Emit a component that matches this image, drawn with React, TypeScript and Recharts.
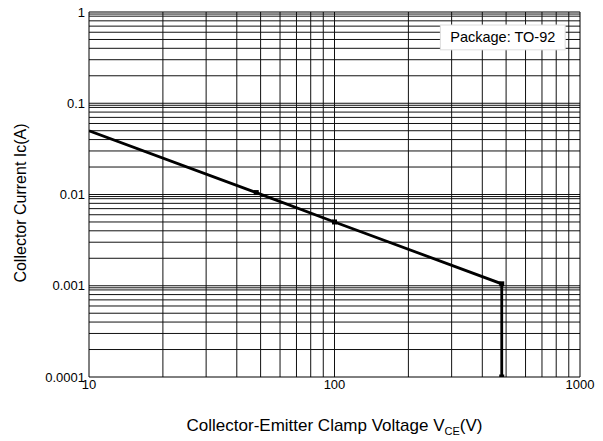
import React from 'react';
import { ComposedChart, Line, XAxis, YAxis, ReferenceLine, Label } from 'recharts';

const xTicks = [10, 100, 1000];
const yTicks = [0.0001, 0.001, 0.01, 0.1, 1];
const yTickLabels = ['0.0001', '0.001', '0.01', '0.1', '1'];
const xGrid = [20, 30, 40, 50, 60, 70, 80, 90, 100, 200, 300, 400, 500, 600, 700, 800, 900];
const yGrid = [
  0.0002, 0.0003, 0.0004, 0.0005, 0.0006, 0.0007, 0.0008, 0.0009, 0.00095, 0.001,
  0.002, 0.003, 0.004, 0.005, 0.006, 0.007, 0.008, 0.009, 0.0095, 0.01,
  0.02, 0.03, 0.04, 0.05, 0.06, 0.07, 0.08, 0.09, 0.095, 0.1,
  0.2, 0.3, 0.4, 0.5, 0.6, 0.7, 0.8, 0.9, 0.95,
];
const voltage = [10, 48, 100, 480, 480];
const current = [0.05, 0.0105, 0.005, 0.00105, 0.0001];
const markerIdx = [1, 2, 3, 4];
const boxText = 'Package: TO-92';
const boxCorners = [
  { x: 270, y: 0.72 },
  { x: 870, y: 0.385 },
];

const data = voltage.map((v, i) => ({ v, c: current[i] }));

const FONT = 'Arial, "Liberation Sans", Helvetica, sans-serif';

const Dot = (props: any) => {
  const { cx, cy, index } = props;
  if (!markerIdx.includes(index)) return <g key={index} />;
  return <rect key={index} x={cx - 2.5} y={cy - 2.5} width={5} height={5} fill="#000" />;
};

const BoxShape = (p: any) => {
  const x = Math.min(p.x1, p.x2);
  const y = Math.min(p.y1, p.y2);
  const w = Math.abs(p.x2 - p.x1);
  const h = Math.abs(p.y2 - p.y1);
  return (
    <g>
      <rect x={x} y={y} width={w} height={h} fill="#fff" stroke="#ddd" strokeWidth={1} />
      <text
        x={x + w / 2}
        y={y + h / 2}
        textAnchor="middle"
        dominantBaseline="central"
        fontSize={14.5}
        fontFamily={FONT}
        fill="#000"
      >
        {boxText}
      </text>
    </g>
  );
};

export default function App() {
  return (
    <div style={{ position: 'absolute', left: 0, top: 0, background: '#fff' }}>
      <ComposedChart
        width={603}
        height={441}
        data={data}
        margin={{ top: 12, right: 23, bottom: 34, left: 9 }}
      >
        <XAxis
          dataKey="v"
          type="number"
          scale="log"
          domain={[10, 1000]}
          ticks={xTicks}
          allowDataOverflow
          tickLine={false}
          tickSize={0}
          tickMargin={3}
          height={30}
          axisLine={{ stroke: '#000', strokeWidth: 1 }}
          tick={{ fill: '#000', fontSize: 13, fontFamily: FONT }}
        >
          <Label
            position="insideBottom"
            content={(p: any) => {
              const vb = p.viewBox;
              return (
                <text
                  x={vb.x + vb.width / 2}
                  y={431}
                  textAnchor="middle"
                  fontSize={17}
                  fontFamily={FONT}
                  fill="#000"
                >
                  Collector-Emitter Clamp Voltage V
                  <tspan fontSize={11} dy={4}>CE</tspan>
                  <tspan dy={-4}>(V)</tspan>
                </text>
              );
            }}
          />
        </XAxis>
        <YAxis
          type="number"
          scale="log"
          domain={[0.0001, 1]}
          ticks={yTicks}
          allowDataOverflow
          width={80}
          tickLine={false}
          tickSize={0}
          tickMargin={4}
          axisLine={{ stroke: '#000', strokeWidth: 1 }}
          tickFormatter={(v: number) => yTickLabels[yTicks.indexOf(v)] ?? String(v)}
          tick={{ fill: '#000', fontSize: 13, fontFamily: FONT }}
        >
          <Label
            position="insideLeft"
            content={() => (
              <text
                x={20}
                y={203}
                transform="rotate(-90 20 203)"
                textAnchor="middle"
                dominantBaseline="central"
                fontSize={16}
                fontFamily={FONT}
                fill="#000"
              >
                Collector Current Ic(A)
              </text>
            )}
          />
        </YAxis>
        {yGrid.map((y) => (
          <ReferenceLine key={'y' + y} y={y} stroke="#111" strokeWidth={1} ifOverflow="hidden" />
        ))}
        {xGrid.map((x) => (
          <ReferenceLine key={'x' + x} x={x} stroke="#111" strokeWidth={1} ifOverflow="hidden" />
        ))}
        <ReferenceLine y={1} stroke="#000" strokeWidth={1} />
        <ReferenceLine x={1000} stroke="#000" strokeWidth={1} />
        <ReferenceLine
          segment={boxCorners}
          ifOverflow="visible"
          zIndex={900}
          shape={(p: any) => <BoxShape {...p} />}
        />
        <Line
          dataKey="c"
          type="linear"
          stroke="#000"
          strokeWidth={2.8}
          dot={<Dot />}
          activeDot={false}
          isAnimationActive={false}
        />
      </ComposedChart>
    </div>
  );
}
